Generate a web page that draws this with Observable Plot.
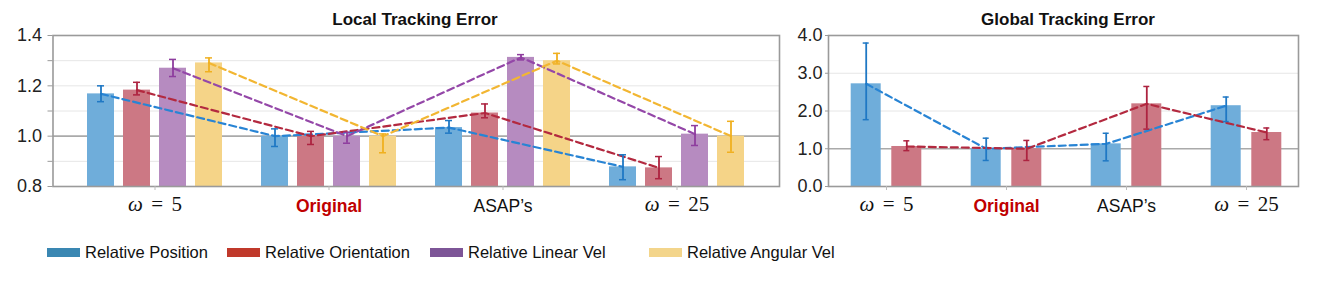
<!DOCTYPE html>
<html><head><meta charset="utf-8">
<script src="https://cdn.jsdelivr.net/npm/d3@7"></script>
<script src="https://cdn.jsdelivr.net/npm/@observablehq/plot@0.6"></script>
<style>
body{margin:0;background:#fff;}
#root{position:relative;width:1331px;height:281px;overflow:hidden;font-family:"Liberation Sans",Arial,sans-serif;}
.title{position:absolute;top:10px;font-weight:bold;font-size:17px;color:#111;transform:translateX(-50%);white-space:nowrap;}
.panel{position:absolute;top:0;}
.sw{position:absolute;height:9px;top:248px;}
.lt{position:absolute;font-size:16.5px;color:#111;white-space:nowrap;line-height:1;top:244px;}
</style></head>
<body><div id="root"></div>
<script>
// ---------- data ----------
const groups = ["ω = 5", "Original", "ASAP’s", "ω = 25"];
const seriesNames = ["Relative Position", "Relative Orientation", "Relative Linear Vel", "Relative Angular Vel"];

// Local tracking error
const localPositionMean    = [1.168, 1.000, 1.034, 0.878];
const localPositionLo      = [1.137, 0.959, 1.012, 0.827];
const localPositionHi      = [1.200, 1.029, 1.062, 0.926];
const localOrientationMean = [1.183, 1.000, 1.092, 0.874];
const localOrientationLo   = [1.164, 0.967, 1.073, 0.831];
const localOrientationHi   = [1.214, 1.019, 1.128, 0.919];
const localLinearMean      = [1.270, 1.000, 1.313, 1.008];
const localLinearLo        = [1.237, 0.972, 1.303, 0.963];
const localLinearHi        = [1.305, 1.015, 1.324, 1.042];
const localAngularMean     = [1.291, 1.000, 1.300, 1.000];
const localAngularLo       = [1.256, 0.934, 1.287, 0.936];
const localAngularHi       = [1.311, 1.009, 1.329, 1.059];

// Global tracking error
const globalPositionMean    = [2.72, 1.00, 1.13, 2.14];
const globalPositionLo      = [1.77, 0.69, 0.68, 1.72];
const globalPositionHi      = [3.80, 1.28, 1.41, 2.37];
const globalOrientationMean = [1.06, 1.00, 2.19, 1.43];
const globalOrientationLo   = [0.95, 0.69, 1.52, 1.24];
const globalOrientationHi   = [1.21, 1.22, 2.65, 1.55];

// axis ticks
const localTicks = [0.8, 0.9, 1.0, 1.1, 1.2, 1.3, 1.4];
const localTickLabels = [0.8, 1.0, 1.2, 1.4];
const localGrid = [0.9, 1.1, 1.2, 1.3];
const globalTicks = [0, 1, 2, 3, 4];
const globalTickLabels = [0, 1, 2, 3, 4];
const globalGrid = [2, 3];
const referenceLine = [1];

// ---------- styles ----------
const barFill   = ["#6fadda", "#cc7884", "#b68bc0", "#f5d488"];
const errStroke = ["#1f78c4", "#ad2340", "#8e3d9e", "#f0b020"];
const dashStroke= ["#2884d4", "#b3293f", "#9447a8", "#f2b632"];
const legendFill= ["#3a87b2", "#c0392b", "#7d5597", "#f3d58b"];

function rows(mean, lo, hi) {
  return groups.map((g, i) => ({group: g, mean: mean[i], lo: lo[i], hi: hi[i]}));
}

function panel({width, height, marginLeft, marginRight, yDomain, ticks, tickLabels, grid,
                series, paddingInner, paddingOuter, align, offsets, inset, tickSize, tickPadding}) {
  const marks = [
    Plot.ruleY(grid, {stroke: "#e6e6e6", strokeWidth: 1}),
    Plot.ruleY(referenceLine, {stroke: "#aaaaaa", strokeWidth: 1.6}),
  ];
  series.forEach((s, i) => {
    marks.push(Plot.barY(s.data, {x: "group", y: "mean", fill: barFill[i], dx: offsets[i], clip: true}));
  });
  series.forEach((s, i) => {
    marks.push(Plot.line(s.data, {x: "group", y: "mean", stroke: dashStroke[i], strokeWidth: 2.2,
      strokeDasharray: "7,4", dx: offsets[i]}));
  });
  series.forEach((s, i) => {
    marks.push(Plot.ruleX(s.data, {x: "group", y1: "lo", y2: "hi", stroke: errStroke[i], strokeWidth: 1.8, dx: offsets[i]}));
    marks.push(Plot.tickY(s.data, {x: "group", y: "lo", stroke: errStroke[i], strokeWidth: 1.5, dx: offsets[i], insetLeft: inset, insetRight: inset}));
    marks.push(Plot.tickY(s.data, {x: "group", y: "hi", stroke: errStroke[i], strokeWidth: 1.5, dx: offsets[i], insetLeft: inset, insetRight: inset}));
  });
  marks.push(
    Plot.frame({stroke: "#9a9a9a", strokeWidth: 1.6}),
    Plot.axisY({ticks, tickSize, tickFormat: () => "", color: "#9a9a9a", label: null}),
    Plot.axisY({ticks: tickLabels, tickSize: 0, tickPadding: tickSize + tickPadding, tickFormat: d => d.toFixed(1),
      fontSize: 18, color: "#222", fontFamily: "Liberation Sans, Arial, sans-serif", label: null}),
    Plot.axisX({tickSize: 4, tickFormat: () => "", color: "#bbbbbb", label: null}),
    Plot.text(groups, {filter: d => d === "Original", x: d => d, text: d => d, frameAnchor: "bottom", dy: 25,
      fill: "#c00000", fontWeight: "bold", fontSize: 17.5, fontFamily: "Liberation Sans, Arial, sans-serif"}),
    Plot.text(groups, {filter: d => d === "ASAP’s", x: d => d, text: d => d, frameAnchor: "bottom", dy: 25,
      fill: "#111", fontSize: 17.5, fontFamily: "Liberation Sans, Arial, sans-serif"}),
    Plot.text(groups, {filter: d => d.startsWith("ω"), x: d => d, text: d => d, frameAnchor: "bottom", dy: 24,
      fill: "#111", fontSize: 21, fontFamily: "Liberation Serif, DejaVu Serif, serif"})
  );
  const svg = Plot.plot({
    width, height, marginLeft, marginRight, marginTop: 35, marginBottom: 44,
    style: {background: "transparent", overflow: "visible"},
    x: {domain: groups, paddingInner, paddingOuter, align, axis: null, label: null},
    y: {domain: yDomain, axis: null, label: null},
    marks
  });
  // render ω labels with italic omega (math style)
  d3.select(svg).selectAll("text").each(function() {
    const t = this.textContent;
    if (t.startsWith("ω") && t.includes("=")) {
      const num = t.split("=")[1].trim();
      const sel = d3.select(this);
      sel.text("");
      sel.append("tspan").attr("font-style", "italic").text("ω");
      sel.append("tspan").attr("dx", "0.4em").text("=");
      sel.append("tspan").attr("dx", "0.4em").text(num);
    }
  });
  return svg;
}

const root = document.getElementById("root");

const left = panel({
  width: 790, height: 230, marginLeft: 52.5, marginRight: 11,
  yDomain: [0.8, 1.4], ticks: localTicks, tickLabels: localTickLabels, grid: localGrid,
  series: [
    {data: rows(localPositionMean, localPositionLo, localPositionHi)},
    {data: rows(localOrientationMean, localOrientationLo, localOrientationHi)},
    {data: rows(localLinearMean, localLinearLo, localLinearHi)},
    {data: rows(localAngularMean, localAngularLo, localAngularHi)}
  ],
  paddingInner: 1 - 27 / 175, paddingOuter: 0.5, align: 0.5,
  offsets: [-54, -18, 18, 54], inset: 10, tickSize: 5, tickPadding: 6
});
left.classList.add("panel");
left.style.left = "0px";
root.appendChild(left);

const right = panel({
  width: 541, height: 230, marginLeft: 38, marginRight: 33,
  yDomain: [0, 4], ticks: globalTicks, tickLabels: globalTickLabels, grid: globalGrid,
  series: [
    {data: rows(globalPositionMean, globalPositionLo, globalPositionHi)},
    {data: rows(globalOrientationMean, globalOrientationLo, globalOrientationHi)}
  ],
  paddingInner: 0.75, paddingOuter: 1 / 3, align: 0.54,
  offsets: [-20.3, 20.3], inset: 12, tickSize: 3, tickPadding: 3
});
right.classList.add("panel");
right.style.left = "790px";
root.appendChild(right);

// titles
[["Local Tracking Error", 415], ["Global Tracking Error", 1068]].forEach(([t, x]) => {
  const d = document.createElement("div");
  d.className = "title"; d.textContent = t; d.style.left = x + "px";
  root.appendChild(d);
});

// legend
const legendSwatchX = [47, 227, 430, 649];
seriesNames.forEach((name, i) => {
  const sw = document.createElement("div");
  sw.className = "sw"; sw.style.left = legendSwatchX[i] + "px"; sw.style.width = "33px";
  sw.style.background = legendFill[i];
  root.appendChild(sw);
  const lt = document.createElement("div");
  lt.className = "lt"; lt.style.left = (legendSwatchX[i] + 38) + "px"; lt.textContent = name;
  root.appendChild(lt);
});
</script>
</body></html>
